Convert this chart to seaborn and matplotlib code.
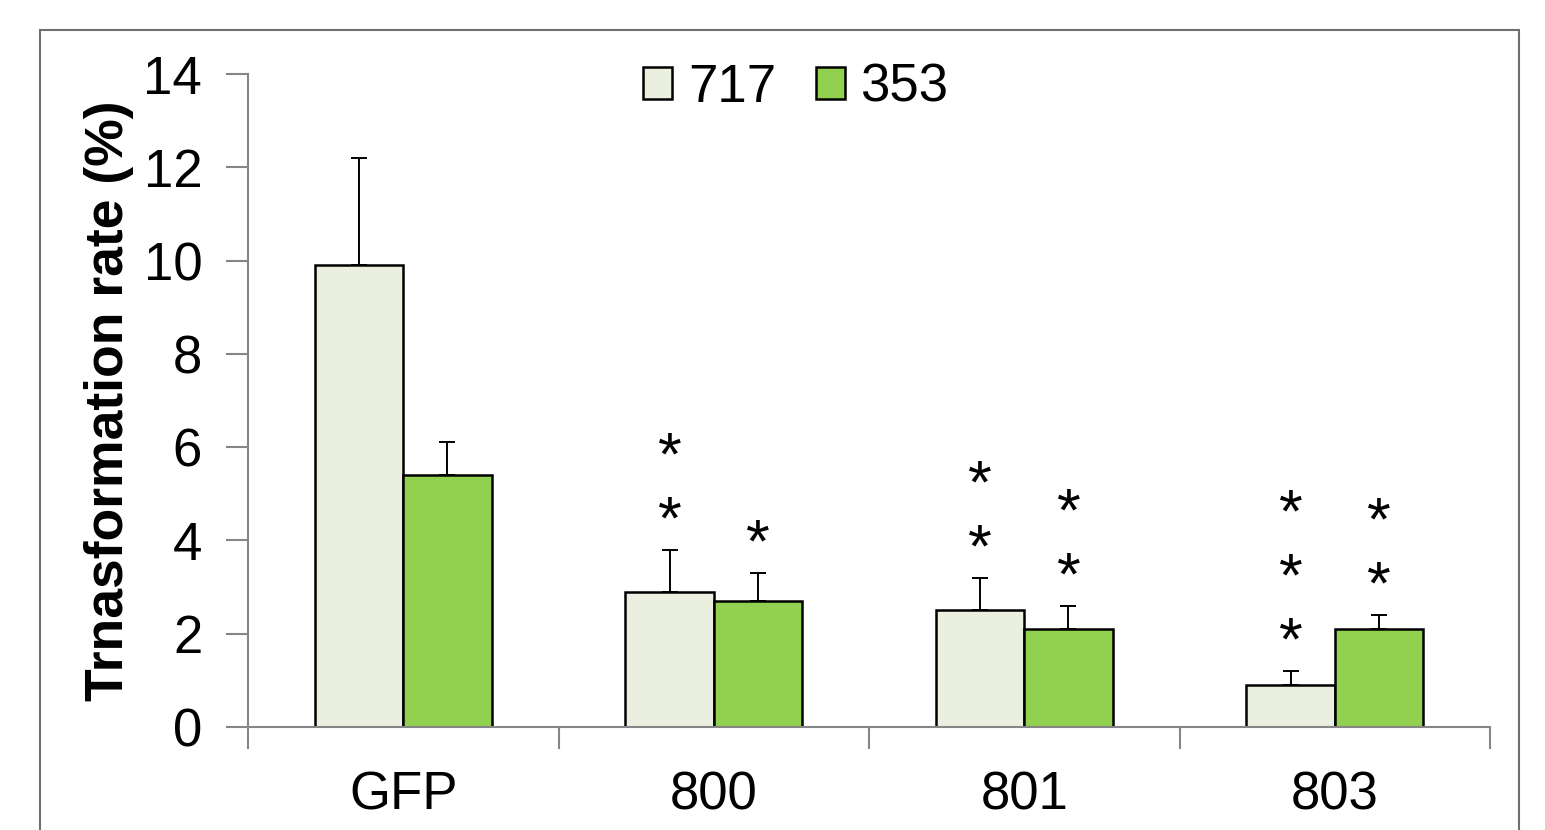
import matplotlib
matplotlib.use("Agg")
import matplotlib.pyplot as plt
import seaborn as sns
import pandas as pd
import numpy as np
from matplotlib.patches import Rectangle

categories = ["GFP", "800", "801", "803"]
series_names = ["717", "353"]
values_717 = [9.9, 2.9, 2.5, 0.9]
values_353 = [5.4, 2.7, 2.1, 2.1]
err_717 = [2.3, 0.9, 0.7, 0.3]
err_353 = [0.7, 0.6, 0.5, 0.3]
stars_717 = [0, 2, 2, 3]
stars_353 = [0, 1, 2, 2]
colors = ["#EBEFDF", "#92D050"]

sns.set_theme(style="white")
plt.rcParams['font.family'] = ['Liberation Sans', 'DejaVu Sans']
plt.rcParams['text.color'] = 'black'
plt.rcParams['xtick.color'] = 'black'
plt.rcParams['ytick.color'] = 'black'
plt.rcParams['axes.labelcolor'] = 'black'

df = pd.DataFrame({
    "cat": categories * 2,
    "series": [series_names[0]] * 4 + [series_names[1]] * 4,
    "val": values_717 + values_353,
})

fig = plt.figure(figsize=(15.45, 8.3), dpi=100)
ax = fig.add_axes([248/1545, 1-727/830, (1490-248)/1545, (727-74)/830])

sns.barplot(data=df, x="cat", y="val", hue="series", order=categories,
            hue_order=series_names, palette=colors, errorbar=None,
            width=0.57, gap=0, edgecolor="black", linewidth=1.8, ax=ax,
            saturation=1)

# error bars (upper only) and stars
errs = [err_717, err_353]
vals = [values_717, values_353]
stars = [stars_717, stars_353]
bar_containers = list(ax.containers)[:2]
for si, cont in enumerate(bar_containers):
    for ci, bar in enumerate(cont.patches):
        xc = bar.get_x() + bar.get_width() / 2
        v = vals[si][ci]
        e = errs[si][ci]
        ax.errorbar(xc, v, yerr=[[0], [e]], fmt="none", ecolor="black",
                    elinewidth=1.4, capsize=5.5, capthick=1.4, zorder=1)
        for k in range(stars[si][ci]):
            ax.text(xc, v + e + 0.58 + k * 1.37, "*", ha="center", va="center",
                    fontsize=44, color="black")

ax.set_ylim(0, 14)
ax.set_xlim(-0.5, 3.5)
ax.set_yticks(np.arange(0, 15, 2))
ax.set_yticklabels([str(t) for t in range(0, 15, 2)], fontsize=38)
ax.set_xticks(range(4))
ax.set_xticklabels(categories, fontsize=38)
ax.set_xticks([-0.5, 0.5, 1.5, 2.5, 3.5], minor=True)
ax.tick_params(axis="x", which="major", length=0, pad=31)
ax.tick_params(axis="x", which="minor", length=16, width=1.5, color="#868686", direction="out", bottom=True)
ax.tick_params(axis="y", length=16, width=1.5, color="#868686", labelcolor="black",
               direction="out", left=True, pad=17)
ax.set_xlabel("")
ax.set_ylabel("Trnasformation rate (%)", fontsize=38.5, fontweight="bold", labelpad=7)

for s in ["top", "right"]:
    ax.spines[s].set_visible(False)
for s in ["left", "bottom"]:
    ax.spines[s].set_color("#868686")
    ax.spines[s].set_linewidth(1.5)

handles, labels = ax.get_legend_handles_labels()
leg = ax.legend(handles, labels, loc="upper center", bbox_to_anchor=(0.441, 1.09),
                ncol=2, frameon=False, fontsize=38, handlelength=0.55, handleheight=0.55,
                handletextpad=0.3, columnspacing=0.75)
for h in leg.legend_handles:
    h.set_edgecolor("black")
    h.set_linewidth(1.8)

# figure border
fig.patches.append(Rectangle((40/1545, -0.05), (1519-40)/1545, 1.05 - 30/830,
                             transform=fig.transFigure, fill=False,
                             edgecolor="#6f6f6f", linewidth=1.5))

fig.savefig("out.png", dpi=100)
